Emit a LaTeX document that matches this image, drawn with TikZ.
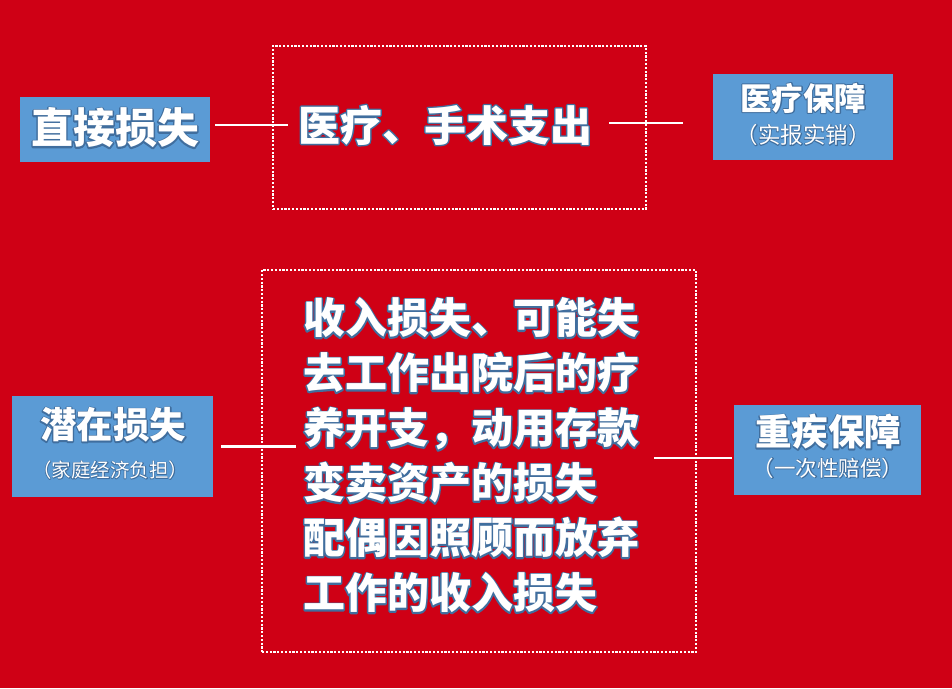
\documentclass[tikz,border=0pt]{standalone}
\usepackage{fontspec}
\newfontfamily\cjk{Noto Sans CJK SC}
\usetikzlibrary{calc}
\definecolor{bgred}{RGB}{207,0,21}
\definecolor{boxblue}{RGB}{91,155,213}
\tikzset{
  txt/.style={inner sep=0pt, text=white},
  bluebox/.style={fill=boxblue, draw=none, inner sep=0pt},
  dotbox/.style={draw=white, line width=2.2pt, dash pattern=on 2.2pt off 1.6pt, inner sep=0pt},
  conn/.style={draw=white, line width=2.8pt},
  bigtxt/.style={font=\cjk\bfseries\fontsize{42}{55}\selectfont}
}
% stroke-only copy of a text (drawn under the white text)
\newcommand\stk[2][2.8]{\special{pdf:literal direct 1 Tr #1 w 1 j 0.25 0.43 0.62 RG}#2\special{pdf:literal direct 0 Tr}}
% a text with a blue edge: stroked layer, then white layer
\newcommand\oltext[5][2.8]{%
  \node[txt,#4] at (#3) {\stk[#1]{#5}};
  \node[txt,#4] (#2) at (#3) {#5};}
\begin{document}
\begin{tikzpicture}[x=1pt,y=-1pt]
\fill[bgred] (0,0) rectangle (952,688);
\useasboundingbox (0,0) rectangle (952,688);

% dotted frames
\node[dotbox, minimum width=373, minimum height=163] (r1) at (459.5,127.5) {};
\node[dotbox, minimum width=434, minimum height=382] (r2) at (479,461) {};

% blue boxes
\node[bluebox, minimum width=190, minimum height=65] (b1) at (115,129.5) {};
\node[bluebox, minimum width=180, minimum height=86] (b2) at (803,117) {};
\node[bluebox, minimum width=201, minimum height=101] (b3) at (112.5,446.5) {};
\node[bluebox, minimum width=187, minimum height=90] (b4) at (827.5,450) {};

% texts
\oltext{t0}{115,128}{bigtxt}{直接损失}
\oltext{t1}{445,125}{bigtxt}{医疗、手术支出}
\oltext[2]{t2a}{803,98}{font=\cjk\bfseries\fontsize{31.5}{36}\selectfont}{医疗保障}
\oltext[1.4]{t2b}{803,135}{font=\cjk\fontsize{22.5}{26}\selectfont}{（实报实销）}
\oltext[2.4]{t3a}{113,425}{font=\cjk\bfseries\fontsize{36.5}{42}\selectfont}{潜在损失}
\oltext[1.3]{t3b}{110,470}{font=\cjk\fontsize{19.5}{22}\selectfont}{（家庭经济负担）}
\oltext[2.4]{t4a}{828,432}{font=\cjk\bfseries\fontsize{36.5}{42}\selectfont}{重疾保障}
\oltext[1.3]{t4b}{828,468}{font=\cjk\fontsize{21.5}{24}\selectfont}{（一次性赔偿）}
\node[txt, align=left, bigtxt] at (471,455.5)
  {\stk{收入损失、可能失}\\\stk{去工作出院后的疗}\\\stk{养开支，动用存款}\\\stk{变卖资产的损失}\\\stk{配偶因照顾而放弃}\\\stk{工作的收入损失}};
\node[txt, align=left, bigtxt] (m) at (471,455.5)
  {收入损失、可能失\\去工作出院后的疗\\养开支，动用存款\\变卖资产的损失\\配偶因照顾而放弃\\工作的收入损失};

% connectors
\draw[conn] ($(b1.east |- t1.west)+(5,0)$) -- ($(t1.west)+(-10,0)$);
\draw[conn] ($(t1.east)+(17,-2)$) -- ($(b2.west |- t1.east)+(-30,-2)$);
\draw[conn] ($(b3.east)+(8,0)$) -- ($(b3.east -| m.west)+(-7,0)$);
\draw[conn] ($(m.east)+(15,2.5)$) -- ($(b4.west |- m.east)+(-2,2.5)$);
\end{tikzpicture}
\end{document}
